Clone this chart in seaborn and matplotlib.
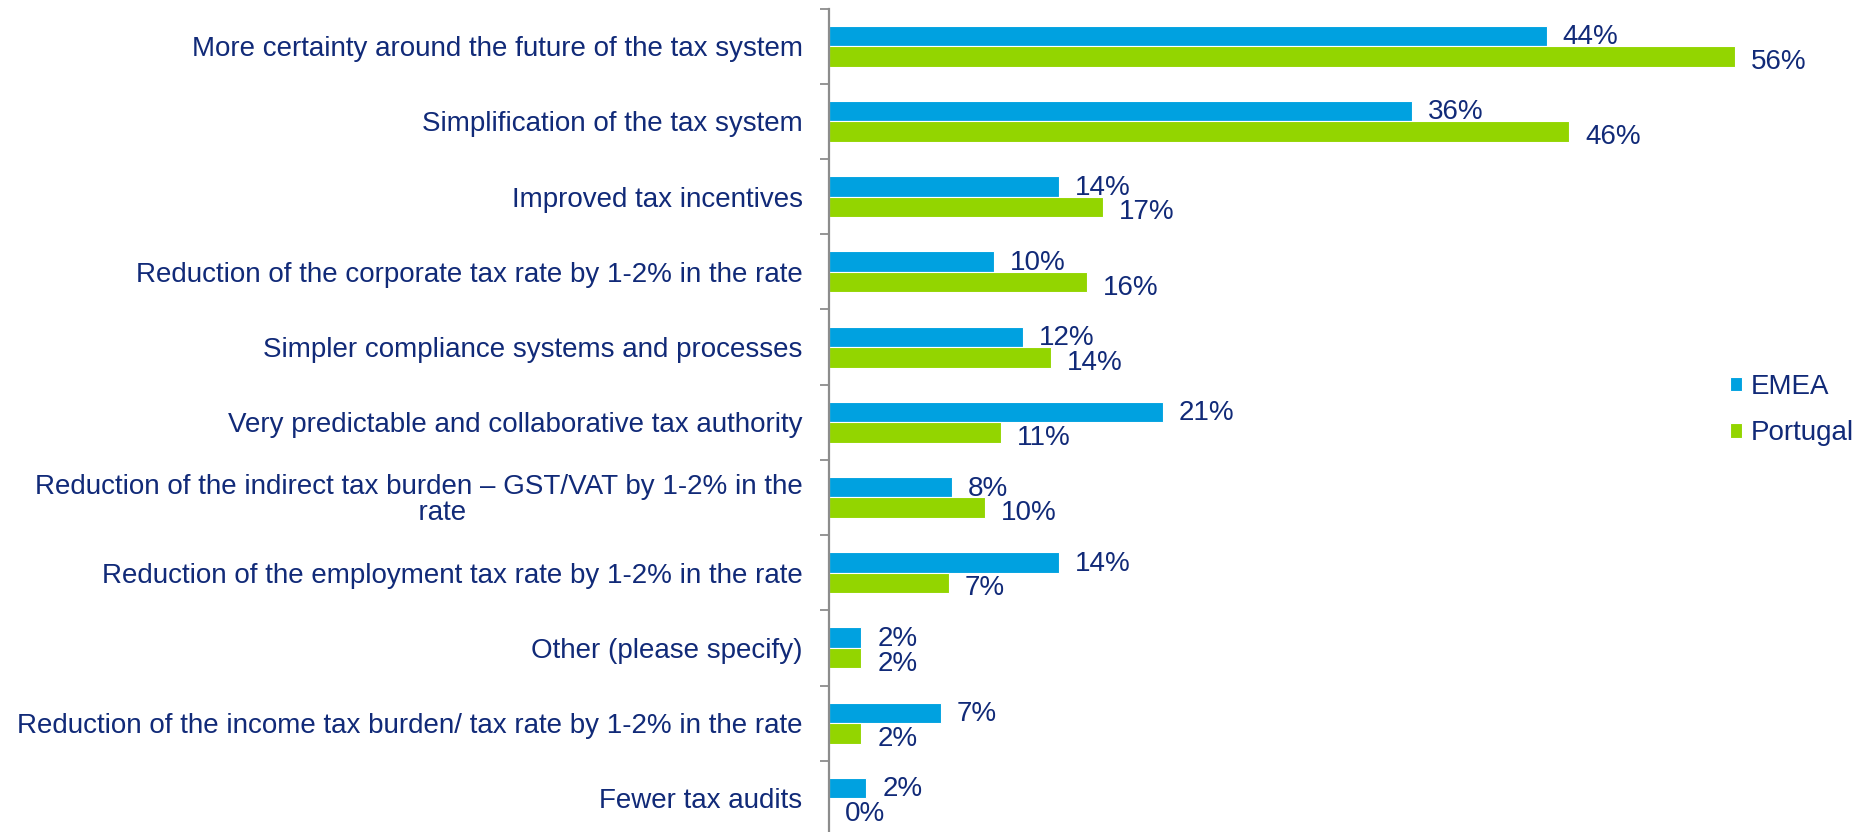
import matplotlib
matplotlib.use("Agg")
import matplotlib.pyplot as plt
import seaborn as sns
import pandas as pd
import numpy as np

# Survey answers: what would most improve the tax environment
categories = [
    "More certainty around the future of the tax system",
    "Simplification of the tax system",
    "Improved tax incentives",
    "Reduction of the corporate tax rate by 1-2% in the rate",
    "Simpler compliance systems and processes",
    "Very predictable and collaborative tax authority",
    "Reduction of the indirect tax burden \u2013 GST/VAT by 1-2% in the\n      rate",
    "Reduction of the employment tax rate by 1-2% in the rate",
    "Other (please specify)",
    "Reduction of the income tax burden/ tax rate by 1-2% in the rate",
    "Fewer tax audits",
]
emea = [44.3, 36.0, 14.2, 10.2, 12.0, 20.6, 7.6, 14.2, 2.0, 6.9, 2.3]
portugal = [55.9, 45.7, 16.9, 15.9, 13.7, 10.6, 9.6, 7.4, 2.0, 2.0, 0.0]
series = ["EMEA", "Portugal"]

BLUE = "#00a1e0"
GREEN = "#93d500"
NAVY = "#112a78"
GREY = "#8c8c8c"
FS = 20.0

df = pd.DataFrame({
    "category": categories * 2,
    "value": emea + portugal,
    "region": [series[0]] * len(categories) + [series[1]] * len(categories),
})

sns.set_theme(style="white")
plt.rcParams["font.family"] = ["Liberation Sans", "DejaVu Sans"]

fig = plt.figure(figsize=(18.73, 8.32), dpi=100)
ax = fig.add_axes([829 / 1873, -4 / 832, 972 / 1873, 827.5 / 832])

sns.barplot(
    data=df, y="category", x="value", hue="region", orient="h",
    palette=[BLUE, GREEN], saturation=1, width=0.545, edgecolor="white",
    linewidth=0.8, dodge=True, ax=ax, legend=True,
)

ax.set_xlim(0, 60)
ax.set_ylim(len(categories) - 0.5, -0.5)

# value labels at the end of every bar; the pair is nudged apart a little
for cont, dy in zip(ax.containers, [1.2, -1.8]):
    vals = cont.datavalues
    texts = ax.bar_label(cont, labels=[f"{v:.0f}%" for v in vals],
                         padding=11.5, fontsize=FS, color=NAVY)
    for t in texts:
        t.set_verticalalignment("center_baseline")
        t.xyann = (11.5, dy)

# axes styling
for side in ["top", "right", "bottom"]:
    ax.spines[side].set_visible(False)
ax.spines["left"].set_color(GREY)
ax.spines["left"].set_linewidth(1.6)
ax.set_xlabel("")
ax.set_ylabel("")
ax.set_xticks([])
ax.tick_params(axis="y", which="major", length=0, pad=19, labelsize=FS,
               labelcolor=NAVY)
ax.set_yticks(np.arange(-0.5, len(categories), 1.0), minor=True)
ax.tick_params(axis="y", which="minor", length=6.5, width=1.3, color=GREY,
               direction="out", left=True)
for lab in ax.get_yticklabels():
    lab.set_multialignment("center")
    lab.set_linespacing(1.0)

# legend at the right, small square markers
handles, labels = ax.get_legend_handles_labels()
ax.get_legend().remove()
fig.legend(
    handles, labels, loc="center left",
    bbox_to_anchor=(1730 / 1873, 1 - 410 / 832), frameon=False,
    fontsize=FS, labelcolor=NAVY, handlelength=0.42, handleheight=0.42,
    handletextpad=0.33, labelspacing=0.74, borderpad=0, borderaxespad=0,
)

fig.savefig("out.png", dpi=100)
